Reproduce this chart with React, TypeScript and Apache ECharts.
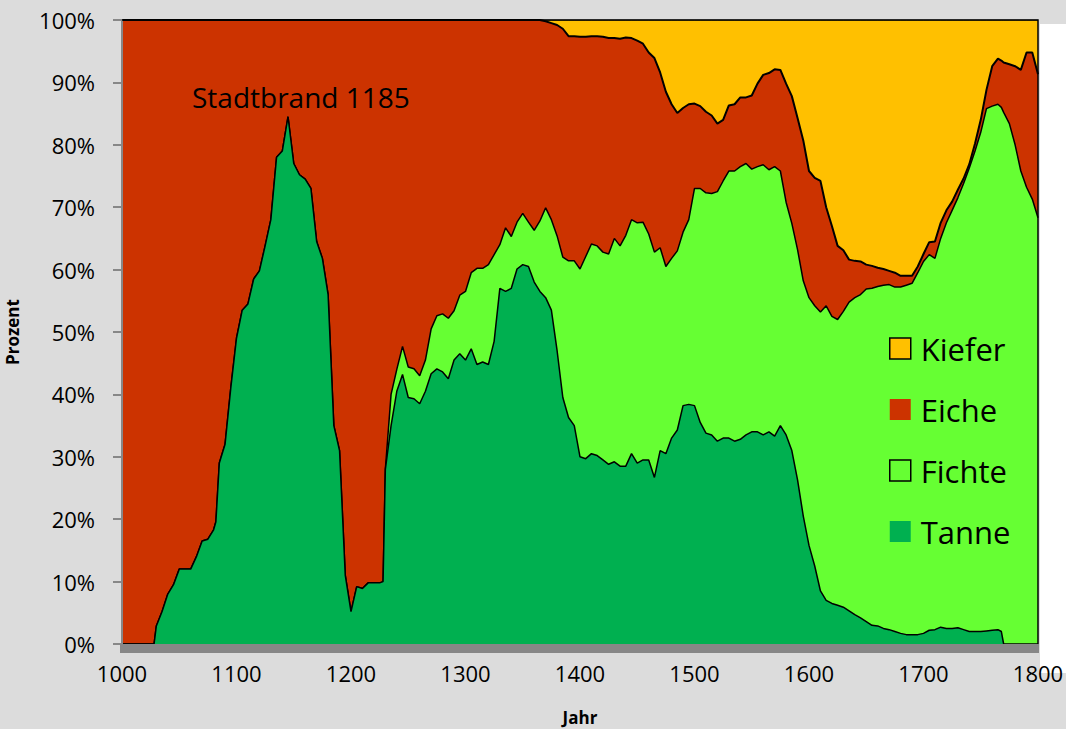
import React, { useEffect, useRef } from "react";
import * as echarts from "echarts";

// Years (x positions of the samples)
const years = [
  1000, 1005, 1010, 1015, 1020, 1025, 1028, 1030,
  1035, 1040, 1045, 1050, 1055, 1060, 1065, 1070, 1075, 1080, 1082,
  1085, 1090, 1095, 1100, 1105, 1110, 1115, 1120, 1125, 1130,
  1135, 1140, 1145, 1150, 1155, 1160, 1165, 1170, 1175, 1180,
  1185, 1190, 1195, 1200, 1205, 1210, 1215, 1220, 1225, 1228,
  1230, 1235, 1240, 1245, 1250, 1255, 1260, 1265, 1270, 1275,
  1280, 1285, 1290, 1295, 1300, 1305, 1310, 1315, 1320, 1325,
  1330, 1335, 1340, 1345, 1350, 1355, 1360, 1365, 1370, 1375,
  1380, 1385, 1390, 1395, 1400, 1405, 1410, 1415, 1420, 1425,
  1430, 1435, 1440, 1445, 1450, 1455, 1460, 1465, 1470, 1475,
  1480, 1485, 1490, 1495, 1500, 1505, 1510, 1515, 1520, 1525,
  1530, 1535, 1540, 1545, 1550, 1555, 1560, 1565, 1570, 1575,
  1580, 1585, 1590, 1595, 1600, 1605, 1610, 1615, 1620, 1625,
  1630, 1635, 1640, 1645, 1650, 1655, 1660, 1665, 1670, 1675,
  1680, 1685, 1690, 1695, 1700, 1705, 1710, 1715, 1720, 1725,
  1730, 1735, 1740, 1745, 1750, 1755, 1760, 1765, 1768,
  1770, 1775, 1780, 1785, 1790, 1795, 1800,
];

// Share of each species (percent)
const tanne = [
  0, 0, 0, 0, 0, 0, 0, 2.9,
  5.2, 8, 9.5, 12, 12, 12, 14, 16.5, 16.8, 18.3, 19.6,
  29, 32, 41, 49, 53.5, 54.5, 58.5, 59.8, 63.8, 68,
  78, 79, 84.5, 77, 75.2, 74.5, 73, 64.5, 61.8, 56,
  35, 31, 11, 5.2, 9.2, 8.9, 9.8, 9.8, 9.8, 10,
  28, 35, 40.5, 43.2, 39.5, 39.3, 38.5, 40.5, 43.3, 44.1,
  43.6, 42.5, 45.5, 46.5, 45.5, 47.3, 44.8, 45.2, 44.8, 48.5,
  57, 56.5, 57, 60.1, 60.8, 60.5, 58, 56.5, 55.5, 53.5,
  47, 39.5, 36.3, 35, 30, 29.7, 30.5, 30.2, 29.5, 28.8,
  29.2, 28.5, 28.5, 30.5, 29, 29.5, 29.5, 26.7, 31, 30.5,
  33, 34.3, 38.2, 38.4, 38.2, 35.5, 33.8, 33.5, 32.5, 33,
  33, 32.5, 32.8, 33.5, 34, 34, 33.5, 34, 33.3, 35,
  33.5, 31, 26.3, 20.5, 15.8, 12.5, 8.5, 7, 6.5, 6.2,
  5.9, 5.3, 4.7, 4.2, 3.6, 3, 2.9, 2.5, 2.3, 2,
  1.7, 1.5, 1.5, 1.5, 1.7, 2.2, 2.3, 2.7, 2.5, 2.5,
  2.6, 2.3, 2, 2, 2, 2.1, 2.2, 2.3, 2,
  0, 0, 0, 0, 0, 0, 0,
];

const fichte = [
  0, 0, 0, 0, 0, 0, 0, 0,
  0, 0, 0, 0, 0, 0, 0, 0, 0, 0, 0,
  0, 0, 0, 0, 0, 0, 0, 0, 0, 0,
  0, 0, 0, 0, 0, 0, 0, 0, 0, 0,
  0, 0, 0, 0, 0, 0, 0, 0, 0, 0,
  0, 5, 3.5, 4.5, 4.9, 4.8, 4.5, 5, 7.2, 8.5,
  9.3, 9.7, 7.9, 9.4, 11, 12.2, 15.4, 15, 16, 13.9,
  7, 10.2, 8.3, 7.5, 8.2, 7.1, 8.3, 11.3, 14.4, 14.5,
  18.4, 22.5, 25.1, 26.4, 30.1, 32.4, 33.6, 33.6, 33.3, 33.7,
  35.8, 35.3, 37, 37.5, 38.5, 38.1, 36.2, 36.1, 32.5, 30,
  28.8, 28.7, 27.8, 29.6, 34.8, 37.5, 38.5, 38.7, 40, 41.2,
  42.8, 43.3, 43.7, 43.5, 42.1, 42.5, 43.3, 42, 43.2, 40.8,
  37.3, 36.4, 36.9, 37.7, 39.7, 41.7, 44.7, 47.2, 46, 45.8,
  47.4, 49.5, 50.8, 51.8, 53.3, 54, 54.4, 55, 55.3, 55.2,
  55.5, 56, 56.3, 58, 59.6, 60.2, 59.5, 62.3, 65, 67,
  68.9, 71.5, 74.3, 77, 80, 83.7, 84, 84.2, 84,
  85.2, 83.4, 80, 75.8, 73.2, 71.3, 68.3,
];

const eiche = [
  100, 100, 100, 100, 100, 100, 100, 97.1,
  94.8, 92, 90.5, 88, 88, 88, 86, 83.5, 83.2, 81.7, 80.4,
  71, 68, 59, 51, 46.5, 45.5, 41.5, 40.2, 36.2, 32,
  22, 21, 15.5, 23, 24.8, 25.5, 27, 35.5, 38.2, 44,
  65, 69, 89, 94.8, 90.8, 91.1, 90.2, 90.2, 90.2, 90,
  72, 60, 56, 52.3, 55.6, 55.9, 57, 54.5, 49.5, 47.4,
  47.1, 47.8, 46.6, 44.1, 43.5, 40.5, 39.8, 39.8, 39.2, 37.6,
  36, 33.3, 34.7, 32.4, 31, 32.4, 33.7, 32.2, 29.9, 31.5,
  33.8, 36.6, 36, 36, 37.2, 35.2, 33.3, 33.6, 34.5, 34.6,
  32.1, 33.2, 31.7, 29.1, 29.2, 28.6, 29.1, 31.1, 28.1, 28,
  24.7, 22.1, 19.9, 18.5, 13.6, 13.2, 13, 12.5, 10.9, 9.8,
  10.5, 10.7, 11.1, 10.6, 11.8, 13.3, 14.4, 15.5, 15.6, 16.2,
  19, 20.4, 21.1, 22.5, 20.3, 20.5, 21, 15.8, 14.5, 11.8,
  9.8, 6.8, 5.9, 5.3, 3.9, 3.6, 3, 2.6, 2.2, 2.3,
  1.8, 1.5, 1.2, 1, 1.2, 2, 2.7, 2.5, 2, 1.4,
  1.3, 0.8, 0.6, 1.2, 2, 3, 6.4, 7.3, 7.5,
  8, 9.5, 12.6, 16.2, 21.6, 23.5, 23,
];

const kiefer = [
  0, 0, 0, 0, 0, 0, 0, 0,
  0, 0, 0, 0, 0, 0, 0, 0, 0, 0, 0,
  0, 0, 0, 0, 0, 0, 0, 0, 0, 0,
  0, 0, 0, 0, 0, 0, 0, 0, 0, 0,
  0, 0, 0, 0, 0, 0, 0, 0, 0, 0,
  0, 0, 0, 0, 0, 0, 0, 0, 0, 0,
  0, 0, 0, 0, 0, 0, 0, 0, 0, 0,
  0, 0, 0, 0, 0, 0, 0, 0, 0.2, 0.5,
  0.8, 1.4, 2.6, 2.6, 2.7, 2.7, 2.6, 2.6, 2.7, 2.9,
  2.9, 3, 2.8, 2.9, 3.3, 3.8, 5.2, 6.1, 8.4, 11.5,
  13.5, 14.9, 14.1, 13.5, 13.4, 13.8, 14.7, 15.3, 16.6, 16,
  13.7, 13.5, 12.4, 12.4, 12.1, 10.2, 8.8, 8.5, 7.9, 8,
  10.2, 12.2, 15.7, 19.3, 24.2, 25.3, 25.8, 30, 33, 36.2,
  36.9, 38.4, 38.6, 38.7, 39.2, 39.4, 39.7, 39.9, 40.2, 40.5,
  41, 41, 41, 39.5, 37.5, 35.6, 35.5, 32.5, 30.5, 29.1,
  27.2, 25.4, 23.1, 19.8, 16, 11.2, 7.4, 6.2, 6.5,
  6.8, 7.1, 7.4, 8, 5.2, 5.2, 8.7,
];

const seriesNames = ["Tanne", "Fichte", "Eiche", "Kiefer"];
const seriesColors = ["#00B050", "#66FF33", "#CC3300", "#FFC000"];
const legendOrder = ["Kiefer", "Eiche", "Fichte", "Tanne"];
const annotationText = "Stadtbrand 1185";

const FONT = "'Open Sans', 'Noto Sans', sans-serif";

export default function App() {
  const ref = useRef<HTMLDivElement>(null);

  useEffect(() => {
    if (!ref.current) return;
    const chart = echarts.init(ref.current, null, { renderer: "svg" });
    const values = [tanne, fichte, eiche, kiefer];
    const lineWidths = [1.5, 1.5, 2, 1];
    const bordered: Record<string, boolean> = { Kiefer: true, Fichte: true };

    // Stacked (cumulative) tops, bottom-up like an Excel stacked area chart
    const running = years.map(() => 0);
    const stackedData = values.map((arr) =>
      years.map((yr, i) => {
        running[i] = Math.round((running[i] + arr[i]) * 100) / 100;
        return [yr, running[i]];
      })
    );

    chart.setOption({
      animation: false,
      backgroundColor: "#DCDCDC",
      textStyle: { fontFamily: FONT },
      grid: {
        left: 122,
        right: 28,
        top: 20,
        bottom: 85,
        containLabel: false,
        outerBoundsMode: "none",
      },
      xAxis: {
        type: "value",
        min: 1000,
        max: 1800,
        interval: 100,
        z: 30,
        axisLine: { show: false },
        axisTick: { show: false },
        splitLine: { show: false },
        axisLabel: {
          color: "#000",
          fontSize: 22,
          margin: 18,
          fontFamily: FONT,
          formatter: (v: number) => String(v),
        },
        name: "Jahr",
        nameLocation: "middle",
        nameGap: 65,
        nameTextStyle: { color: "#000", fontSize: 17, fontWeight: "bold", fontFamily: FONT },
      },
      yAxis: {
        type: "value",
        min: 0,
        max: 100,
        interval: 10,
        z: 30,
        axisLine: { show: true, onZero: false, lineStyle: { color: "#878787", width: 2 } },
        axisTick: { show: true, length: 9, lineStyle: { color: "#878787", width: 2 } },
        splitLine: { show: false },
        axisLabel: { color: "#000", fontSize: 22, margin: 27, formatter: "{value}%", fontFamily: FONT },
        name: "Prozent",
        nameLocation: "middle",
        nameGap: 101,
        nameRotate: 90,
        nameTextStyle: { color: "#000", fontSize: 17, fontWeight: "bold", fontFamily: FONT },
      },
      legend: {
        orient: "vertical",
        left: 889,
        top: 333,
        padding: 0,
        z: 50,
        icon: "rect",
        itemWidth: 21,
        itemHeight: 21,
        itemGap: 30,
        selectedMode: false,
        textStyle: { color: "#000", fontSize: 31, fontFamily: FONT, padding: [0, 0, 0, 5] },
        data: legendOrder.map((name) => {
          const k = seriesNames.indexOf(name);
          return {
            name,
            itemStyle: bordered[name]
              ? { color: seriesColors[k], borderColor: "#000", borderWidth: 1.5 }
              : { color: seriesColors[k], borderColor: seriesColors[k], borderWidth: 0 },
          };
        }),
      },
      graphic: [
        {
          type: "rect",
          z: -10,
          shape: { x: 1040, y: 24, width: 26, height: 649 },
          style: { fill: "#FFFFFF" },
        },
        {
          type: "rect",
          z: 100,
          shape: { x: 120, y: 644, width: 919, height: 9 },
          style: { fill: "#878787" },
        },
        {
          type: "polyline",
          z: 100,
          shape: { points: [[122, 20], [1038, 20], [1038, 644]] },
          style: { stroke: "#000", lineWidth: 1.5, fill: null },
        },
        {
          type: "text",
          z: 100,
          left: 192,
          top: 83,
          style: { text: annotationText, fontSize: 28, fontFamily: FONT, fill: "#000" },
        },
      ],
      series: seriesNames.map((name, k) => ({
        name,
        type: "line",
        z: 10 - k,
        symbol: "none",
        showSymbol: false,
        data: stackedData[k],
        lineStyle: { color: "#000", width: lineWidths[k] },
        itemStyle: { color: seriesColors[k] },
        areaStyle: { color: seriesColors[k], opacity: 1, origin: "start" },
      })),
    });

    return () => chart.dispose();
  }, []);

  return (
    <div
      ref={ref}
      style={{ position: "fixed", left: 0, top: 0, width: 1066, height: 729 }}
    />
  );
}
